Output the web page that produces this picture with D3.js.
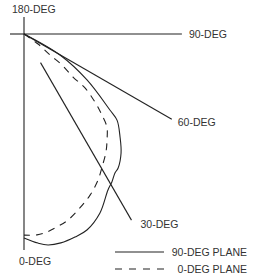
<!DOCTYPE html>
<html>
<head>
<meta charset="utf-8">
<script src="https://cdn.jsdelivr.net/npm/d3@7"></script>
<style>
  body { margin: 0; background: #fff; }
  svg { display: block; }
</style>
</head>
<body>
<svg id="chart" width="259" height="276"></svg>
<script>
// Spokes of the polar plot (angle from 0-DEG, measured toward 90-DEG)
const spokeAngles = [0, 30, 60, 90, 180, 270];
const spokeInner = [0, 15.3, 0, 0, 0, 0];
const spokeOuter = [100, 99.5, 79, 73.1, 7.9, 6.5];
const spokeLabels = ["0-DEG", "30-DEG", "60-DEG", "90-DEG", "180-DEG", ""];

// 90-DEG plane pattern (solid)
const planeAngles90 = [62, 59.7, 53.9, 48.5, 47.2, 43.0, 39.2, 35.1, 33.2, 30.7, 28.3, 23.0, 17.8, 14.1, 10.0, 6.5, 3.8, 0];
const planeRadii90 = [0, 19.3, 36.1, 53.1, 58.7, 65.2, 71.1, 75.8, 76.9, 79.7, 82.0, 90.0, 95.3, 96.9, 98.2, 98.3, 97.0, 94.4];

// 0-DEG plane pattern (dashed)
const planeAngles0 = [56, 54.5, 51.1, 50.8, 48.7, 48.5, 46.2, 43.9, 41.7, 38.1, 34.8, 30.4, 26.9, 22.3, 17.8, 13.3, 9.7, 6.6, 3.7, 0];
const planeRadii0 = [0, 8.0, 15.5, 22.7, 30.2, 37.7, 45.5, 52.0, 57.7, 62.3, 66.5, 71.4, 75.8, 80.6, 84.6, 88.5, 90.6, 92.3, 93.2, 93.1];

const legendLabels = ["90-DEG PLANE", "0-DEG PLANE"];

const svg = d3.select("#chart");
const cx = 24, cy = 34;
const ink = "#222";
const font = "'Liberation Sans', Arial, sans-serif";

const rScale = d3.scaleLinear().domain([0, 100]).range([0, 216]);
const toRad = d => d * Math.PI / 180;

const g = svg.append("g")
    .attr("transform", `translate(${cx}, ${cy})`);

// spokes
const spokes = spokeAngles.map((a, i) => ({ a, r0: spokeInner[i], r1: spokeOuter[i], label: spokeLabels[i] }));

g.selectAll(".spoke")
    .data(spokes)
    .enter()
    .append("line")
    .attr("class", "spoke")
    .attr("x1", d => rScale(d.r0) * Math.sin(toRad(d.a)))
    .attr("y1", d => rScale(d.r0) * Math.cos(toRad(d.a)))
    .attr("x2", d => rScale(d.r1) * Math.sin(toRad(d.a)))
    .attr("y2", d => rScale(d.r1) * Math.cos(toRad(d.a)))
    .attr("stroke", ink)
    .attr("stroke-width", 1.1);

// label offsets from spoke ends
const labelOffset = {
    "0-DEG": [-5, 15],
    "30-DEG": [9, 8],
    "60-DEG": [6, 7],
    "90-DEG": [7, 4],
    "180-DEG": [-12, -4]
};

g.selectAll(".spoke-label")
    .data(spokes.filter(d => d.label))
    .enter()
    .append("text")
    .attr("class", "spoke-label")
    .text(d => d.label)
    .attr("x", d => rScale(d.r1) * Math.sin(toRad(d.a)) + labelOffset[d.label][0])
    .attr("y", d => rScale(d.r1) * Math.cos(toRad(d.a)) + labelOffset[d.label][1])
    .attr("font-family", font)
    .attr("font-size", 10.5)
    .attr("fill", "#333");

// patterns
const radial = d3.lineRadial()
    .angle(d => Math.PI - toRad(d[0]))
    .radius(d => rScale(d[1]))
    .curve(d3.curveCatmullRom.alpha(0.5));

g.append("path")
    .datum(planeAngles90.map((a, i) => [a, planeRadii90[i]]))
    .attr("d", radial)
    .attr("fill", "none")
    .attr("stroke", ink)
    .attr("stroke-width", 1.1);

g.append("path")
    .datum(planeAngles0.map((a, i) => [a, planeRadii0[i]]))
    .attr("d", radial)
    .attr("fill", "none")
    .attr("stroke", ink)
    .attr("stroke-width", 1.1)
    .attr("stroke-dasharray", "7,6");

// legend
const legend = svg.append("g");
const legendY = d3.scalePoint().domain(legendLabels).range([252, 269]);

legend.selectAll("line")
    .data(legendLabels)
    .enter()
    .append("line")
    .attr("x1", 115)
    .attr("x2", 164)
    .attr("y1", d => legendY(d))
    .attr("y2", d => legendY(d))
    .attr("stroke", ink)
    .attr("stroke-width", 1.1)
    .attr("stroke-dasharray", (d, i) => i ? "7,7" : null);

legend.selectAll("text")
    .data(legendLabels)
    .enter()
    .append("text")
    .text(d => d)
    .attr("x", 247)
    .attr("y", d => legendY(d) + 4)
    .attr("text-anchor", "end")
    .attr("font-family", font)
    .attr("font-size", 10.5)
    .attr("fill", "#333");
</script>
</body>
</html>
